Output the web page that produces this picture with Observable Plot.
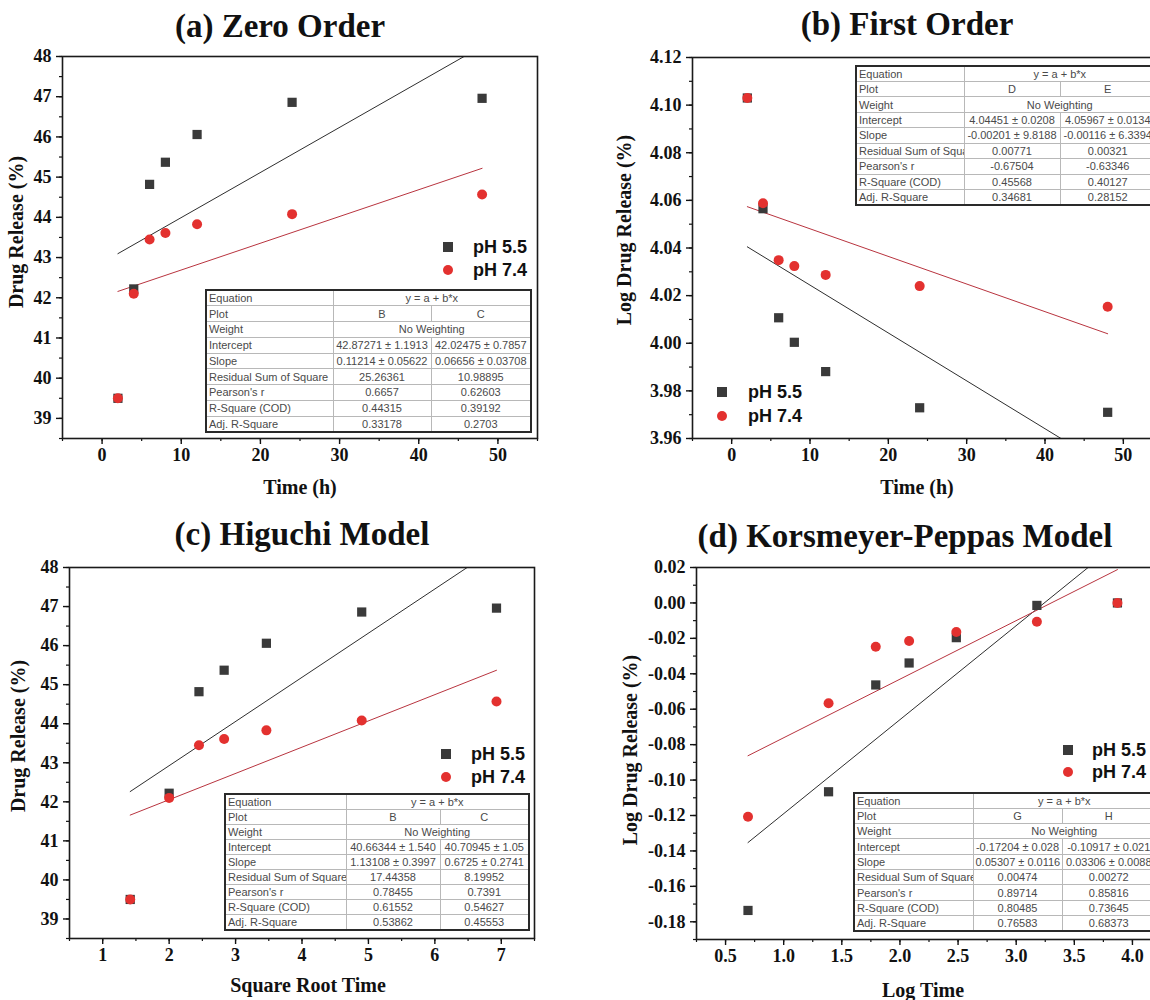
<!DOCTYPE html>
<html><head><meta charset="utf-8">
<script src="https://cdn.jsdelivr.net/npm/d3@7"></script>
<script src="https://cdn.jsdelivr.net/npm/@observablehq/plot@0.6"></script>
<style>
body{margin:0;background:#fff;}
#root{position:relative;width:1150px;height:1000px;overflow:hidden;background:#fff;}
table.fit{position:absolute;border-collapse:collapse;table-layout:fixed;border:2px solid #2a2a2a;font-family:"Liberation Sans",Arial,sans-serif;font-size:11px;color:#4a4a4a;background:#fff;}
table.fit td{border:1px solid #b8b8b8;padding:0 2px;white-space:nowrap;overflow:hidden;line-height:12px;}
table.fit td.c{text-align:center;}
</style></head><body><div id="root"></div><script>
// ---------- data ----------
const times = [2, 4, 6, 8, 12, 24, 48];
const sqrtTime = [1.414, 2.000, 2.449, 2.828, 3.464, 4.899, 6.928];
const logTime = [0.693, 1.386, 1.792, 2.079, 2.485, 3.178, 3.871];

const zeroPH55 = [39.50, 42.22, 44.82, 45.37, 46.06, 46.86, 46.96];
const zeroPH74 = [39.50, 42.10, 43.45, 43.61, 43.83, 44.08, 44.57];
const firstPH55 = [4.1030, 4.0565, 4.0107, 4.0004, 3.9881, 3.9729, 3.9710];
const firstPH74 = [4.1030, 4.0588, 4.0349, 4.0324, 4.0287, 4.0240, 4.0153];
const higuchiPH55 = [39.50, 42.22, 44.82, 45.37, 46.06, 46.86, 46.96];
const higuchiPH74 = [39.50, 42.10, 43.45, 43.61, 43.83, 44.08, 44.57];
const kpPH55 = [-0.1736, -0.1066, -0.0463, -0.0339, -0.0196, -0.0014, 0.0000];
const kpPH74 = [-0.1207, -0.0566, -0.0247, -0.0215, -0.0164, -0.0106, 0.0000];

// linear fits y = a + b*x  (panels a, b, c, d)
const fitIntercept55 = [42.87271, 4.04451, 40.66344, -0.17204];
const fitSlope55 = [0.11214, -0.00201, 1.13108, 0.05307];
const fitIntercept74 = [42.02475, 4.05967, 40.70945, -0.10917];
const fitSlope74 = [0.06656, -0.00116, 0.6725, 0.03306];

const seriesNames = ["pH 5.5", "pH 7.4"];
const panelTitles = ["(a) Zero Order", "(b) First Order", "(c) Higuchi Model", "(d) Korsmeyer-Peppas Model"];
const xLabels = ["Time (h)", "Time (h)", "Square Root Time", "Log Time"];
const yLabels = ["Drug Release (%)", "Log Drug Release (%)", "Drug Release (%)", "Log Drug Release (%)"];

const xTicksA = [0, 10, 20, 30, 40, 50];
const yTicksA = [39, 40, 41, 42, 43, 44, 45, 46, 47, 48];
const xTicksB = [0, 10, 20, 30, 40, 50];
const yTicksB = [3.96, 3.98, 4.00, 4.02, 4.04, 4.06, 4.08, 4.10, 4.12];
const xTicksC = [1, 2, 3, 4, 5, 6, 7];
const yTicksC = [39, 40, 41, 42, 43, 44, 45, 46, 47, 48];
const xTicksD = [0.5, 1.0, 1.5, 2.0, 2.5, 3.0, 3.5, 4.0];
const yTicksD = [-0.18, -0.16, -0.14, -0.12, -0.10, -0.08, -0.06, -0.04, -0.02, 0.00, 0.02];

const tableRowLabels = ["Equation", "Plot", "Weight", "Intercept", "Slope", "Residual Sum of Square", "Pearson's r", "R-Square (COD)", "Adj. R-Square"];
const tableA = [["y = a + b*x"], ["B", "C"], ["No Weighting"], ["42.87271 ± 1.1913", "42.02475 ± 0.7857"], ["0.11214 ± 0.05622", "0.06656 ± 0.03708"], ["25.26361", "10.98895"], ["0.6657", "0.62603"], ["0.44315", "0.39192"], ["0.33178", "0.2703"]];
const tableB = [["y = a + b*x"], ["D", "E"], ["No Weighting"], ["4.04451 ± 0.0208", "4.05967 ± 0.0134"], ["-0.00201 ± 9.8188", "-0.00116 ± 6.3394"], ["0.00771", "0.00321"], ["-0.67504", "-0.63346"], ["0.45568", "0.40127"], ["0.34681", "0.28152"]];
const tableC = [["y = a + b*x"], ["B", "C"], ["No Weighting"], ["40.66344 ± 1.540", "40.70945 ± 1.05"], ["1.13108 ± 0.3997", "0.6725 ± 0.2741"], ["17.44358", "8.19952"], ["0.78455", "0.7391"], ["0.61552", "0.54627"], ["0.53862", "0.45553"]];
const tableD = [["y = a + b*x"], ["G", "H"], ["No Weighting"], ["-0.17204 ± 0.028", "-0.10917 ± 0.021"], ["0.05307 ± 0.0116", "0.03306 ± 0.0088"], ["0.00474", "0.00272"], ["0.89714", "0.85816"], ["0.80485", "0.73645"], ["0.76583", "0.68373"]];

// ---------- layout ----------
const root = document.getElementById("root");
const COL55 = "#3a3a3a", COL74 = "#e3312f";
const SERIF = "'Liberation Serif','Times New Roman',serif";
const SANS = "'Liberation Sans',Arial,sans-serif";

const fmtInt = d => String(d);
const fmt2 = d => d.toFixed(2);
const fmt1 = d => d.toFixed(1);

const panels = [
  {xs: times, y55: zeroPH55, y74: zeroPH74, xDomain: [-5, 55], yDomain: [38.5, 48],
   xTicks: xTicksA, yTicks: yTicksA, xMinor: d3.range(-5, 55.01, 5), yMinor: d3.range(38.5, 48.01, 0.5),
   xFmt: fmtInt, yFmt: fmtInt, frame: {L: 62, R: 537, T: 56, B: 438}, svg: {x: 0, y: 40, w: 560, h: 440}},
  {xs: times, y55: firstPH55, y74: firstPH74, xDomain: [-5, 55], yDomain: [3.96, 4.12],
   xTicks: xTicksB, yTicks: yTicksB, xMinor: d3.range(-5, 55.01, 5), yMinor: d3.range(3.96, 4.1201, 0.01),
   xFmt: fmtInt, yFmt: fmt2, frame: {L: 692, R: 1162, T: 57, B: 438}, svg: {x: 580, y: 40, w: 600, h: 440}},
  {xs: sqrtTime, y55: higuchiPH55, y74: higuchiPH74, xDomain: [0.5, 7.5], yDomain: [38.5, 48],
   xTicks: xTicksC, yTicks: yTicksC, xMinor: d3.range(0.5, 7.51, 0.5), yMinor: d3.range(38.5, 48.01, 0.5),
   xFmt: fmtInt, yFmt: fmtInt, frame: {L: 69, R: 534, T: 567, B: 938}, svg: {x: 0, y: 555, w: 560, h: 420}},
  {xs: logTime, y55: kpPH55, y74: kpPH74, xDomain: [0.25, 4.25], yDomain: [-0.19, 0.02],
   xTicks: xTicksD, yTicks: yTicksD, xMinor: d3.range(0.25, 4.251, 0.25), yMinor: d3.range(-0.19, 0.0201, 0.01),
   xFmt: fmt1, yFmt: fmt2, frame: {L: 696, R: 1161, T: 567, B: 939}, svg: {x: 580, y: 555, w: 600, h: 420}}
];

panels.forEach((p, i) => {
  const d55 = p.xs.map((x, j) => ({x, y: p.y55[j]}));
  const d74 = p.xs.map((x, j) => ({x, y: p.y74[j]}));
  const xEnds = [p.xs[0], p.xs[p.xs.length - 1]];
  const fit55 = xEnds.map(x => ({x, y: fitIntercept55[i] + fitSlope55[i] * x}));
  const fit74 = xEnds.map(x => ({x, y: fitIntercept74[i] + fitSlope74[i] * x}));
  const {L, R, T, B} = p.frame, {x: sx, y: sy, w, h} = p.svg;
  const chart = Plot.plot({
    width: w, height: h,
    marginLeft: L - sx, marginRight: sx + w - R, marginTop: T - sy, marginBottom: sy + h - B,
    x: {domain: p.xDomain},
    y: {domain: p.yDomain},
    style: {fontFamily: SERIF, fontSize: "18px", fontWeight: "bold", color: "#111", background: "none", overflow: "visible"},
    marks: [
      Plot.axisX({ticks: p.xMinor, tickSize: 3, fill: "none", label: null, strokeWidth: 1.2}),
      Plot.axisX({ticks: p.xTicks, tickSize: 6, tickPadding: 4, tickFormat: p.xFmt, label: null, strokeWidth: 1.4}),
      Plot.axisY({ticks: p.yMinor, tickSize: 3, fill: "none", label: null, strokeWidth: 1.2}),
      Plot.axisY({ticks: p.yTicks, tickSize: 6, tickPadding: 5, tickFormat: p.yFmt, label: null, strokeWidth: 1.4}),
      Plot.line(fit55, {x: "x", y: "y", stroke: "#2e2e2e", strokeWidth: 1, clip: true}),
      Plot.line(fit74, {x: "x", y: "y", stroke: "#b8343f", strokeWidth: 1, clip: true}),
      Plot.dot(d55, {x: "x", y: "y", symbol: "square", r: 5.2, fill: COL55}),
      Plot.dot(d74, {x: "x", y: "y", r: 5, fill: COL74}),
      Plot.frame({stroke: "#1a1a1a", strokeWidth: 1.6})
    ]
  });
  chart.style.position = "absolute";
  chart.style.left = sx + "px";
  chart.style.top = sy + "px";
  root.appendChild(chart);
});

// ---------- fit tables ----------
const tableGeom = [
  {left: 205, top: 289, cols: [127, 98, 100], h: 142},
  {left: 855, top: 65, cols: [108, 96, 96], h: 139},
  {left: 224, top: 793, cols: [121, 94, 89], h: 136},
  {left: 853, top: 792, cols: [119, 89, 94], h: 138}
];
[tableA, tableB, tableC, tableD].forEach((rows, i) => {
  const g = tableGeom[i];
  const t = document.createElement("table");
  t.className = "fit";
  t.style.left = g.left + "px";
  t.style.top = g.top + "px";
  t.style.width = d3.sum(g.cols) + "px";
  t.style.height = g.h + "px";
  const cg = document.createElement("colgroup");
  g.cols.forEach(c => { const col = document.createElement("col"); col.style.width = c + "px"; cg.appendChild(col); });
  t.appendChild(cg);
  rows.forEach((vals, r) => {
    const tr = document.createElement("tr");
    tr.style.height = (g.h / 9) + "px";
    const td0 = document.createElement("td");
    td0.textContent = tableRowLabels[r];
    tr.appendChild(td0);
    vals.forEach(v => {
      const td = document.createElement("td");
      td.className = "c";
      td.textContent = v;
      if (vals.length === 1) td.colSpan = 2;
      tr.appendChild(td);
    });
    t.appendChild(tr);
  });
  root.appendChild(t);
});

// ---------- titles, axis labels, legends ----------
const svg = d3.select(root).append("svg")
  .attr("width", 1150).attr("height", 1000)
  .style("position", "absolute").style("left", 0).style("top", 0).style("pointer-events", "none");

const titlePos = [[280, 37], [907, 35], [302, 545], [905, 547]];
panelTitles.forEach((t, i) => {
  svg.append("text").attr("x", titlePos[i][0]).attr("y", titlePos[i][1])
    .attr("text-anchor", "middle").style("font-family", SERIF).style("font-weight", "bold")
    .style("font-size", "33px").attr("fill", "#111").text(t);
});
const xLabelPos = [[300, 487], [917, 487], [308, 985], [923, 990]];
const yLabelPos = [[16, 232], [624, 230], [18, 736], [630, 750]];
xLabels.forEach((t, i) => {
  svg.append("text").attr("x", xLabelPos[i][0]).attr("y", xLabelPos[i][1])
    .attr("text-anchor", "middle").attr("dominant-baseline", "central")
    .style("font-family", SERIF).style("font-weight", "bold").style("font-size", "20px").attr("fill", "#111").text(t);
});
yLabels.forEach((t, i) => {
  svg.append("text").attr("transform", `translate(${yLabelPos[i][0]},${yLabelPos[i][1]}) rotate(-90)`)
    .attr("text-anchor", "middle").attr("dominant-baseline", "central")
    .style("font-family", SERIF).style("font-weight", "bold").style("font-size", "20px").attr("fill", "#111").text(t);
});
const legendPos = [
  {mx: 448, tx: 473, y: [247, 270]},
  {mx: 722, tx: 748, y: [392, 416]},
  {mx: 446, tx: 471, y: [754, 777]},
  {mx: 1068, tx: 1092, y: [750, 772]}
];
legendPos.forEach(g => {
  svg.append("rect").attr("x", g.mx - 5).attr("y", g.y[0] - 5).attr("width", 10).attr("height", 10).attr("fill", COL55);
  svg.append("circle").attr("cx", g.mx).attr("cy", g.y[1]).attr("r", 5).attr("fill", COL74);
  seriesNames.forEach((n, k) => {
    svg.append("text").attr("x", g.tx).attr("y", g.y[k]).attr("dominant-baseline", "central")
      .style("font-family", SANS).style("font-weight", "bold").style("font-size", "18px").attr("fill", "#111").text(n);
  });
});
</script></body></html>
